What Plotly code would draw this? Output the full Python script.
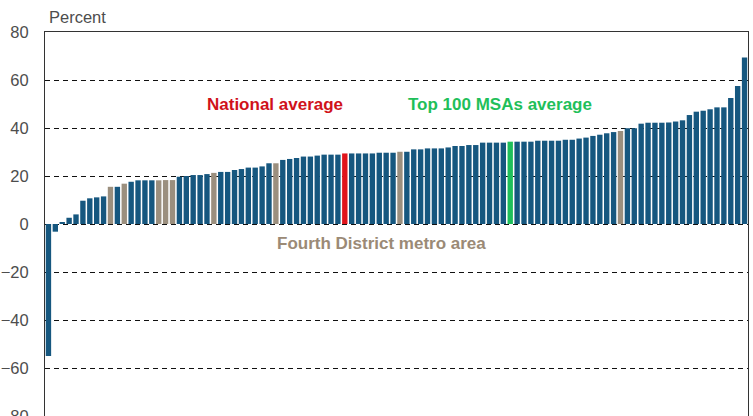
import plotly.graph_objects as go

# Sorted metro-area values (percent), lowest to highest
values = [-55, -3.2, 0.5, 2.6, 4.0, 9.7, 10.7, 11.1, 11.5, 15.5,
          15.5, 16.8, 17.6, 18.2, 18.2, 18.2, 18.2, 18.3, 18.3, 19.7,
          20.0, 20.4, 20.4, 20.8, 21.3, 21.7, 21.7, 22.5, 22.9, 23.5,
          23.5, 24.0, 25.3, 25.3, 26.7, 27.1, 27.5, 28.1, 28.1, 28.5,
          28.9, 28.9, 28.9, 29.4, 29.4, 29.4, 29.4, 29.4, 29.7, 29.7,
          29.7, 30.1, 30.1, 31.1, 31.1, 31.5, 31.5, 31.5, 31.9, 32.5,
          32.5, 32.9, 32.9, 33.9, 33.9, 33.9, 33.9, 34.3, 34.3, 34.3,
          34.3, 34.7, 34.7, 34.7, 34.7, 35.1, 35.1, 35.6, 36.0, 36.7,
          37.2, 37.8, 38.3, 38.75, 39.9, 39.9, 41.8, 42.2, 42.2, 42.2,
          42.3, 42.7, 43.2, 45.4, 46.8, 47.2, 47.8, 48.6, 48.6, 52.5,
          57.5, 69.4]
ranks = list(range(1, len(values) + 1))

fourth_district_ranks = [10, 12, 17, 18, 19, 25, 34, 52, 84]
national_rank = 44
top100_rank = 68

y_ticks = [-80, -60, -40, -20, 0, 20, 40, 60, 80]

BLUE = "#16577f"
TAN = "#9b8f7e"
RED = "#e0141b"
GREEN = "#1fbf5a"

colors = []
for r in ranks:
    if r == national_rank:
        colors.append(RED)
    elif r == top100_rank:
        colors.append(GREEN)
    elif r in fourth_district_ranks:
        colors.append(TAN)
    else:
        colors.append(BLUE)

fig = go.Figure()
fig.add_trace(go.Bar(x=ranks, y=values, marker=dict(color=colors, line=dict(width=0)),
                     hoverinfo="y"))

font_family = "Liberation Sans, Arial, sans-serif"
# Figure is slightly taller than the window so the "-80" label is cut off like the original
W, H = 753, 424
L, R, T, B = 45, 5, 32, 8
PW, PH = W - L - R, H - T - B

fig.update_layout(
    width=W, height=H,
    margin=dict(l=L, r=R, t=T, b=B, autoexpand=False),
    paper_bgcolor="white", plot_bgcolor="white",
    bargap=0.22,
    showlegend=False,
    font=dict(family=font_family, size=16.5, color="#4d4d4d"),
    xaxis=dict(range=[0.5, len(values) + 0.5], showticklabels=False, ticks="",
               showgrid=False, zeroline=False, showline=True, linecolor="#333333",
               linewidth=1, mirror=True),
    yaxis=dict(range=[-80, 80], tickvals=y_ticks, ticks="", showgrid=True,
               gridcolor="#111111", griddash="5px,4px", gridwidth=1,
               zeroline=False, showline=True, linecolor="#333333", linewidth=1,
               mirror=True, ticklabelstandoff=12, ticklabeloverflow="allow",
               tickfont=dict(size=16.5, color="#4d4d4d")),
    annotations=[
        dict(text="Percent", xref="paper", yref="paper", x=(47 - L) / PW,
             y=(H - B - 17) / PH, xanchor="left", yanchor="middle", showarrow=False,
             font=dict(size=16.5, color="#4d4d4d")),
        dict(text="<b>National average</b>", xref="paper", yref="paper",
             x=(275 - L) / PW, y=(H - B - 104) / PH, xanchor="center", yanchor="middle",
             showarrow=False, font=dict(size=17, color="#d0121a")),
        dict(text="<b>Top 100 MSAs average</b>", xref="paper", yref="paper",
             x=(500 - L) / PW, y=(H - B - 104) / PH, xanchor="center", yanchor="middle",
             showarrow=False, font=dict(size=17, color="#1fbf5a")),
        dict(text="<b>Fourth District metro area</b>", xref="paper", yref="paper",
             x=(381 - L) / PW, y=(H - B - 244) / PH, xanchor="center", yanchor="middle",
             showarrow=False, font=dict(size=17, color="#9b8a76")),
    ],
)

fig.write_html("out.html", config={"displayModeBar": False},
               post_script="document.body.style.margin='0';document.body.style.overflow='hidden';")
